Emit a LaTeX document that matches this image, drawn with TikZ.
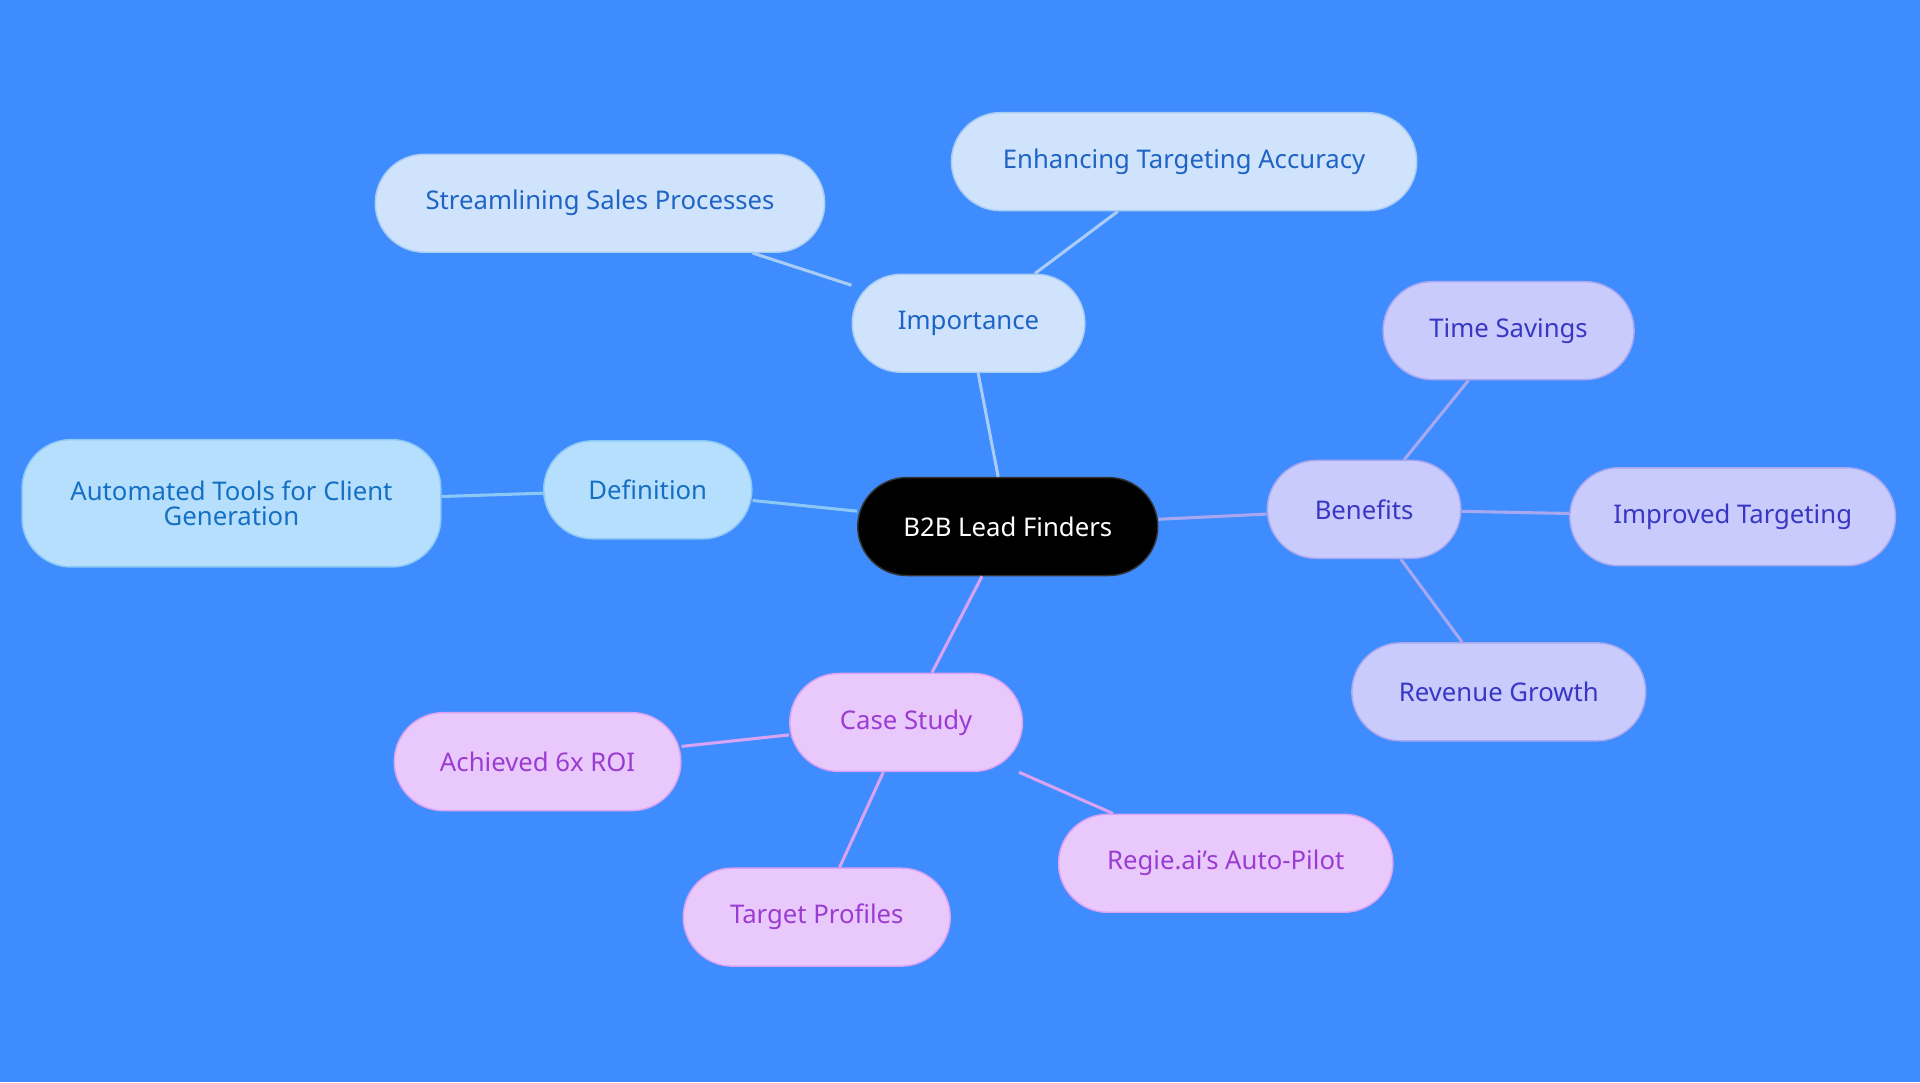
\documentclass[tikz,border=0pt]{standalone}
\usepackage{fontspec}
\setmainfont{Noto Sans}
\definecolor{bg}{HTML}{3F8CFF}
\definecolor{impF}{HTML}{CFE4FC}\definecolor{impT}{HTML}{1F63C4}\definecolor{impL}{HTML}{A9CCF5}
\definecolor{defF}{HTML}{B6DFFE}\definecolor{defT}{HTML}{1570C2}\definecolor{defL}{HTML}{8CC8F5}
\definecolor{benF}{HTML}{C9CBFC}\definecolor{benT}{HTML}{3737C4}\definecolor{benL}{HTML}{A8A8F0}
\definecolor{casF}{HTML}{E9C9FB}\definecolor{casT}{HTML}{9A3CD2}\definecolor{casL}{HTML}{D9A3F3}
\begin{document}
\begin{tikzpicture}[x=1pt,y=-1pt,
 base/.style={rounded corners=40pt,minimum height=80pt,font=\fontsize{21}{24}\selectfont,align=center,inner sep=0pt,line width=1.2pt},
 imp/.style={base,fill=impF,draw=impL,text=impT},
 dfn/.style={base,fill=defF,draw=defL,text=defT},
 ben/.style={base,fill=benF,draw=benL,text=benT},
 cas/.style={base,fill=casF,draw=casL,text=casT},
 e/.style={line width=2.5pt}]
\fill[bg] (0,0) rectangle (1568,884);
\useasboundingbox (0,0) rectangle (1568,884);
\node[base,fill=black!90!blue!60!black,fill=black,draw=black!80,text=white,minimum width=245pt] (c) at (823,430) {B2B Lead Finders};
\node[imp,minimum width=190pt] (imp) at (791,264) {Importance};
\node[imp,minimum width=367pt] (s) at (490,166) {Streamlining Sales Processes};
\node[imp,minimum width=380pt] (en) at (967,132) {Enhancing Targeting Accuracy};
\node[dfn,minimum width=170pt] (d) at (529,400) {Definition};
\node[dfn,minimum width=342pt,minimum height=104pt] (a) at (189,411) {Automated Tools for Client\\[-3pt]Generation};
\node[ben,minimum width=158pt] (b) at (1114,416) {Benefits};
\node[ben,minimum width=205pt] (t) at (1232,270) {Time Savings};
\node[ben,minimum width=266pt] (i) at (1415,422) {Improved Targeting};
\node[ben,minimum width=240pt] (r) at (1224,565) {Revenue Growth};
\node[cas,minimum width=190pt] (cs) at (740,590) {Case Study};
\node[cas,minimum width=234pt] (ac) at (439,622) {Achieved 6x ROI};
\node[cas,minimum width=218pt] (tp) at (667,749) {Target Profiles};
\node[cas,minimum width=273pt] (rg) at (1001,705) {Regie.ai's Auto-Pilot};
\begin{scope}[on background layer/.style={}]
\end{scope}
\begin{pgfonlayer}{main}\end{pgfonlayer}
\draw[e,impL] (c) -- (imp); \draw[e,impL] (imp) -- (s); \draw[e,impL] (imp) -- (en);
\draw[e,defL] (c) -- (d); \draw[e,defL] (d) -- (a);
\draw[e,benL] (c) -- (b); \draw[e,benL] (b) -- (t); \draw[e,benL] (b) -- (i); \draw[e,benL] (b) -- (r);
\draw[e,casL] (c) -- (cs); \draw[e,casL] (cs) -- (ac); \draw[e,casL] (cs) -- (tp); \draw[e,casL] (cs) -- (rg);
\end{tikzpicture}
\end{document}
